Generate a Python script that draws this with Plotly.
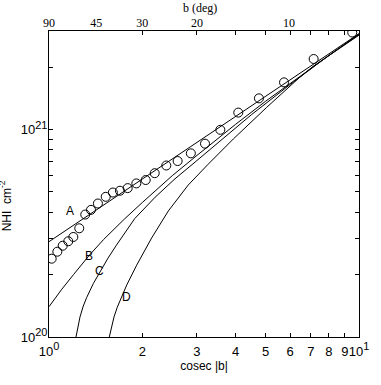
import math
import plotly.graph_objects as go

# observed column densities (open circles)
cosec_obs = [1.020, 1.064, 1.107, 1.154, 1.198, 1.252, 1.309, 1.366, 1.438, 1.524,
             1.607, 1.694, 1.794, 1.913, 2.051, 2.193, 2.39, 2.60, 2.868, 3.186,
             3.57, 4.079, 4.756, 5.73, 7.14, 9.51]
nhi_obs = [2.385e20, 2.577e20, 2.754e20, 2.894e20, 3.035e20, 3.342e20, 3.893e20, 4.10e20, 4.40e20, 4.74e20,
           4.97e20, 5.07e20, 5.22e20, 5.50e20, 5.71e20, 6.16e20, 6.71e20, 7.05e20, 7.68e20, 8.55e20,
           9.97e20, 1.207e21, 1.414e21, 1.688e21, 2.188e21, 2.936e21]

# model curves
a_x = [1.0, 10.0]
a_n = [2.88e20, 2.9e21]

b_x = [1.0, 1.1, 1.2, 1.35, 1.5, 1.75, 2.0, 2.5, 3.0, 4.0, 5.0, 6.0, 8.0, 10.0]
b_n = [1.40e20, 1.70e20, 2.0e20, 2.48e20, 2.95e20, 3.70e20, 4.45e20, 6.0e20, 7.5e20,
       1.06e21, 1.37e21, 1.67e21, 2.29e21, 2.89e21]

c_x = [1.222, 1.24, 1.259, 1.29, 1.323, 1.39, 1.46, 1.55, 1.65, 1.77, 1.89, 2.2, 2.55, 2.96,
       3.5, 4.5, 6.0, 8.0, 10.0]
c_n = [1.0e20, 1.13e20, 1.25e20, 1.41e20, 1.55e20, 1.81e20, 2.06e20, 2.4e20, 2.77e20, 3.25e20,
       3.72e20, 4.72e20, 5.79e20, 6.97e20, 8.6e20, 1.18e21, 1.65e21, 2.28e21, 2.87e21]

d_x = [1.565, 1.59, 1.621, 1.66, 1.70, 1.781, 1.918, 2.143, 2.426, 2.812, 3.26, 3.93, 5.04,
       6.45, 7.12, 10.0]
d_n = [1.0e20, 1.12e20, 1.25e20, 1.39e20, 1.52e20, 1.78e20, 2.22e20, 3.0e20, 4.05e20, 5.4e20,
       6.8e20, 9.0e20, 1.28e21, 1.79e21, 2.02e21, 2.85e21]

curve_labels = ["A", "B", "C", "D"]
label_x = [1.169, 1.346, 1.46, 1.78]
label_y = [4.04e20, 2.45e20, 2.08e20, 1.56e20]

SUP = "<sup><span style='font-size:11px'>{}</span></sup>"
x_ticks = [1, 2, 3, 4, 5, 6, 7, 8, 9, 10]
x_ticktext = ["10" + SUP.format("0"), "2", "3", "4", "5", "6", "7", "8", "9", "10" + SUP.format("1")]
b_tickpos = [1.0, 1.42, 2.0, 3.0, 5.95]
b_ticktext = ["90", "45", "30", "20", "10"]
y_ticks = [1e20, 2e20, 3e20, 4e20, 5e20, 6e20, 7e20, 8e20, 9e20, 1e21, 2e21, 3e21]
y_ticktext = ["10" + SUP.format("20")] + [""] * 8 + ["10" + SUP.format("21"), "", ""]

SANS = "Liberation Sans, Arial, sans-serif"
SERIF = "Liberation Serif, Times New Roman, serif"

fig = go.Figure()
line = dict(color="black", width=1)
for xs, ys in [(a_x, a_n), (b_x, b_n), (c_x, c_n), (d_x, d_n)]:
    fig.add_trace(go.Scatter(x=xs, y=ys, mode="lines", line=line,
                             showlegend=False, hoverinfo="skip"))
fig.add_trace(go.Scatter(x=cosec_obs, y=nhi_obs, mode="markers",
                         marker=dict(symbol="circle-open", size=9, color="black", line=dict(width=1)),
                         showlegend=False))
# dummy trace so the top (b) axis is drawn
fig.add_trace(go.Scatter(x=[1, 10], y=[1e20, 1e20], xaxis="x2", mode="lines",
                         line=dict(width=0), opacity=0, showlegend=False, hoverinfo="skip"))

# log axes: annotation positions are given in log10 units
for t, lx, ly in zip(curve_labels, label_x, label_y):
    fig.add_annotation(x=math.log10(lx), y=math.log10(ly), xref="x", yref="y", text=t,
                       showarrow=False, font=dict(family=SANS, size=12, color="black"))

fig.add_annotation(x=-0.139, y=0.43, xref="paper", yref="paper", text="NHI  cm<sup>-2</sup>",
                   xanchor="center", yanchor="middle",
                   textangle=-90, showarrow=False, font=dict(family=SANS, size=12, color="black"))
fig.add_annotation(x=0.487, y=1.075, xref="paper", yref="paper", text="b (deg)",
                   xanchor="center", yanchor="middle",
                   showarrow=False, font=dict(family=SERIF, size=12, color="black"))

fig.update_layout(
    width=381, height=385,
    margin=dict(l=49, r=22, t=31, b=48),
    paper_bgcolor="white", plot_bgcolor="white",
    xaxis=dict(type="log", range=[0, 1], tickvals=x_ticks, ticktext=x_ticktext, tickangle=0,
               ticks="inside", ticklen=4, tickcolor="black", showline=True, linecolor="black",
               mirror="ticks", showgrid=False, zeroline=False, automargin=False,
               ticklabelstandoff=2,
               tickfont=dict(family=SANS, size=13, color="black"),
               title=dict(text="cosec |b|", font=dict(family=SANS, size=12, color="black"), standoff=2)),
    xaxis2=dict(type="log", range=[0, 1], overlaying="x", side="top", tickvals=b_tickpos,
                ticktext=b_ticktext, tickangle=0, ticks="", showline=False, showgrid=False,
                zeroline=False, automargin=False, ticklabelstandoff=1,
                tickfont=dict(family=SERIF, size=12, color="black")),
    yaxis=dict(type="log", range=[20, 21.475], tickvals=y_ticks, ticktext=y_ticktext,
               ticks="inside", ticklen=4, tickcolor="black", showline=True, linecolor="black",
               mirror="ticks", showgrid=False, zeroline=False, automargin=False,
               ticklabelstandoff=-2,
               tickfont=dict(family=SANS, size=13, color="black")),
)

# drop the default 8px page margin so the figure fills the window
fig.write_html("out.html", config={"displayModeBar": False},
               post_script="document.body.style.margin='0';")
